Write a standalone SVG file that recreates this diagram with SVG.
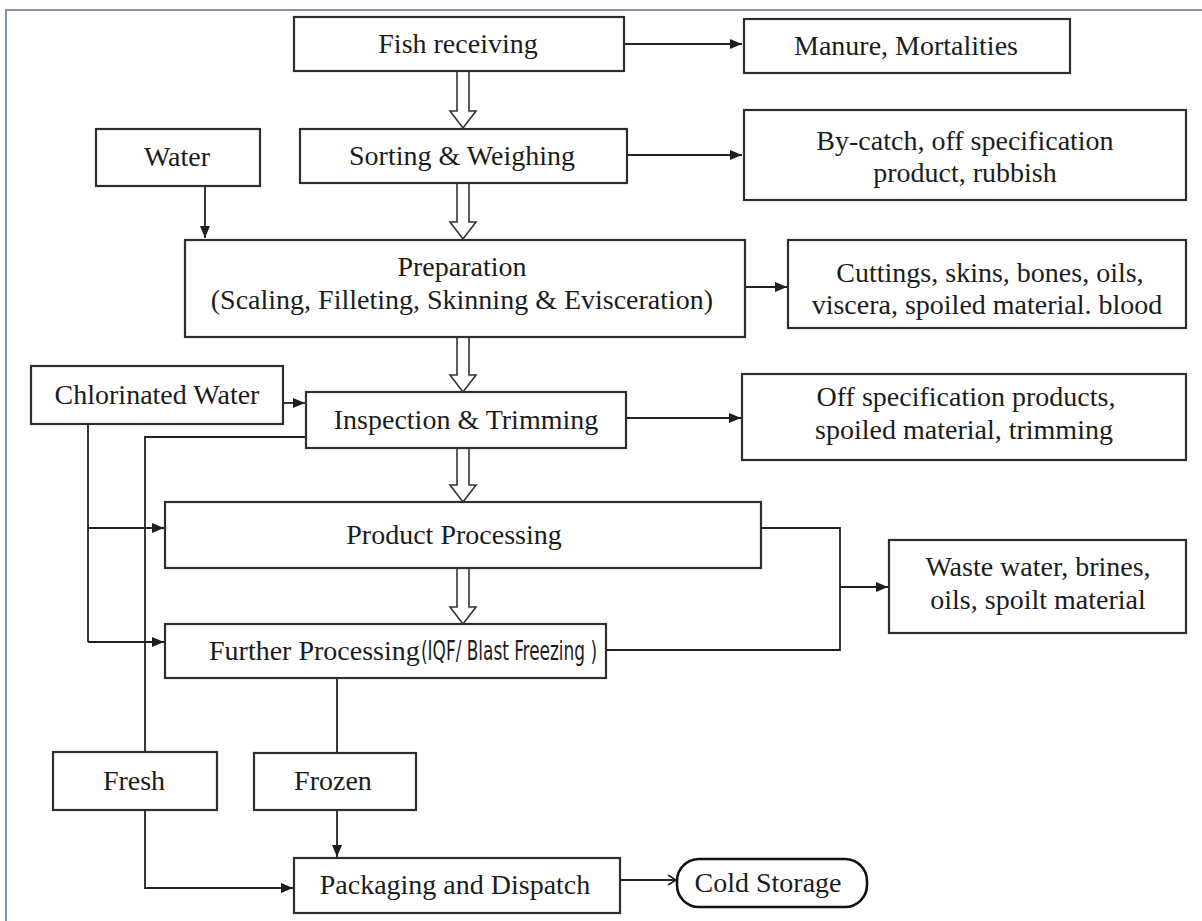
<svg xmlns="http://www.w3.org/2000/svg" width="1202" height="921" viewBox="0 0 1202 921">
  <style>
    .box { fill: #ffffff; stroke: #2e2e2e; stroke-width: 2.2; }
    .lbl { font-family: "Liberation Serif", "Times New Roman", serif; font-size: 28px; fill: #1c1c1c; text-anchor: middle; }
    .narrow { font-family: "Liberation Sans Narrow", "DejaVu Sans Condensed", "Liberation Sans", sans-serif; font-size: 26px; fill: #1c1c1c; }
    .wire { fill: none; stroke: #222222; stroke-width: 1.8; }
    .hollow { fill: #ffffff; stroke: #333333; stroke-width: 1.6; stroke-linejoin: miter; }
    .frame { fill: none; stroke: #8593a8; stroke-width: 2; }
  </style>
  <defs>
    <marker id="head" markerUnits="userSpaceOnUse" markerWidth="12" markerHeight="10" refX="12" refY="5" orient="auto">
      <path d="M0,0 L12,5 L0,10 z" fill="#1e1e1e"/>
    </marker>
    <marker id="open" markerUnits="userSpaceOnUse" markerWidth="10" markerHeight="12" refX="9" refY="6" orient="auto">
      <path d="M1,1 L9,6 L1,11" fill="none" stroke="#1e1e1e" stroke-width="1.5"/>
    </marker>
  </defs>

  <rect width="1202" height="921" fill="#ffffff"/>
  <path class="frame" d="M6,921 V10 H1202"/>

  <!-- connectors -->
  <g id="connectors">
    <path class="wire" d="M624,44 H742" marker-end="url(#head)"/>
    <path class="wire" d="M627,155 H742" marker-end="url(#head)"/>
    <path class="wire" d="M205,186 V238" marker-end="url(#head)"/>
    <path class="wire" d="M745,287 H787" marker-end="url(#head)"/>
    <path class="wire" d="M283,403 H305" marker-end="url(#head)"/>
    <path class="wire" d="M626,418 H741" marker-end="url(#head)"/>
    <path class="wire" d="M88,424 V642"/>
    <path class="wire" d="M88,528 H164" marker-end="url(#head)"/>
    <path class="wire" d="M88,642 H164" marker-end="url(#head)"/>
    <path class="wire" d="M306,437 H145 V752"/>
    <path class="wire" d="M145,810 V888 H293" marker-end="url(#head)"/>
    <path class="wire" d="M761,528 H840 V650 H606"/>
    <path class="wire" d="M840,587 H888" marker-end="url(#head)"/>
    <path class="wire" d="M337,678 V753"/>
    <path class="wire" d="M337,810 V857" marker-end="url(#head)"/>
    <path class="wire" d="M620,880 H676" marker-end="url(#open)"/>
    <!-- hollow process-flow arrows -->
    <polygon class="hollow" points="457,71 469,71 469,111 476,111 463,128 450,111 457,111"/>
    <polygon class="hollow" points="457,183 469,183 469,222 476,222 463,239 450,222 457,222"/>
    <polygon class="hollow" points="457,337 469,337 469,375 476,375 463,392 450,375 457,375"/>
    <polygon class="hollow" points="457,448 469,448 469,485 476,485 463,502 450,485 457,485"/>
    <polygon class="hollow" points="457,568 469,568 469,607 476,607 463,624 450,607 457,607"/>
  </g>

  <g id="fish-receiving">
    <rect class="box" x="294" y="17" width="330" height="54"/>
    <text class="lbl" x="458" y="53">Fish receiving</text>
  </g>
  <g id="manure">
    <rect class="box" x="744" y="19" width="326" height="54"/>
    <text class="lbl" x="906" y="55">Manure, Mortalities</text>
  </g>
  <g id="water">
    <rect class="box" x="96" y="129" width="164" height="57"/>
    <text class="lbl" x="177" y="166">Water</text>
  </g>
  <g id="sorting">
    <rect class="box" x="300" y="129" width="327" height="54"/>
    <text class="lbl" x="462" y="165">Sorting &amp; Weighing</text>
  </g>
  <g id="bycatch">
    <rect class="box" x="744" y="110" width="442" height="90"/>
    <text class="lbl" x="965" y="150">By-catch, off specification</text>
    <text class="lbl" x="965" y="182">product, rubbish</text>
  </g>
  <g id="preparation">
    <rect class="box" x="185" y="240" width="560" height="97"/>
    <text class="lbl" x="462" y="276">Preparation</text>
    <text class="lbl" x="462" y="309">(Scaling, Filleting, Skinning &amp; Evisceration)</text>
  </g>
  <g id="cuttings">
    <rect class="box" x="788" y="240" width="398" height="88"/>
    <text class="lbl" x="990" y="282">Cuttings, skins, bones, oils,</text>
    <text class="lbl" x="987" y="314">viscera, spoiled material. blood</text>
  </g>
  <g id="chlorinated-water">
    <rect class="box" x="31" y="366" width="252" height="58"/>
    <text class="lbl" x="157" y="404">Chlorinated Water</text>
  </g>
  <g id="inspection">
    <rect class="box" x="306" y="392" width="320" height="56"/>
    <text class="lbl" x="466" y="429">Inspection &amp; Trimming</text>
  </g>
  <g id="off-spec">
    <rect class="box" x="742" y="374" width="444" height="86"/>
    <text class="lbl" x="966" y="406">Off specification products,</text>
    <text class="lbl" x="964" y="439">spoiled material, trimming</text>
  </g>
  <g id="product-processing">
    <rect class="box" x="165" y="502" width="596" height="66"/>
    <text class="lbl" x="454" y="544">Product Processing</text>
  </g>
  <g id="waste-water">
    <rect class="box" x="889" y="540" width="297" height="93"/>
    <text class="lbl" x="1038" y="576">Waste water, brines,</text>
    <text class="lbl" x="1038" y="609">oils, spoilt material</text>
  </g>
  <g id="further-processing">
    <rect class="box" x="165" y="624" width="441" height="54"/>
    <text class="lbl" x="209" y="660" style="text-anchor:start">Further Processing</text>
    <text class="narrow" x="421" y="660" textLength="176" lengthAdjust="spacingAndGlyphs">(IQF/ Blast Freezing )</text>
  </g>
  <g id="fresh">
    <rect class="box" x="53" y="752" width="164" height="58"/>
    <text class="lbl" x="134" y="790">Fresh</text>
  </g>
  <g id="frozen">
    <rect class="box" x="254" y="753" width="162" height="57"/>
    <text class="lbl" x="333" y="790">Frozen</text>
  </g>
  <g id="packaging">
    <rect class="box" x="294" y="858" width="326" height="55"/>
    <text class="lbl" x="455" y="894">Packaging and Dispatch</text>
  </g>
  <g id="cold-storage">
    <rect x="677" y="859" width="190" height="48" rx="22" ry="22" fill="#ffffff" stroke="#111111" stroke-width="2.6"/>
    <text class="lbl" x="768" y="892">Cold Storage</text>
  </g>
</svg>
